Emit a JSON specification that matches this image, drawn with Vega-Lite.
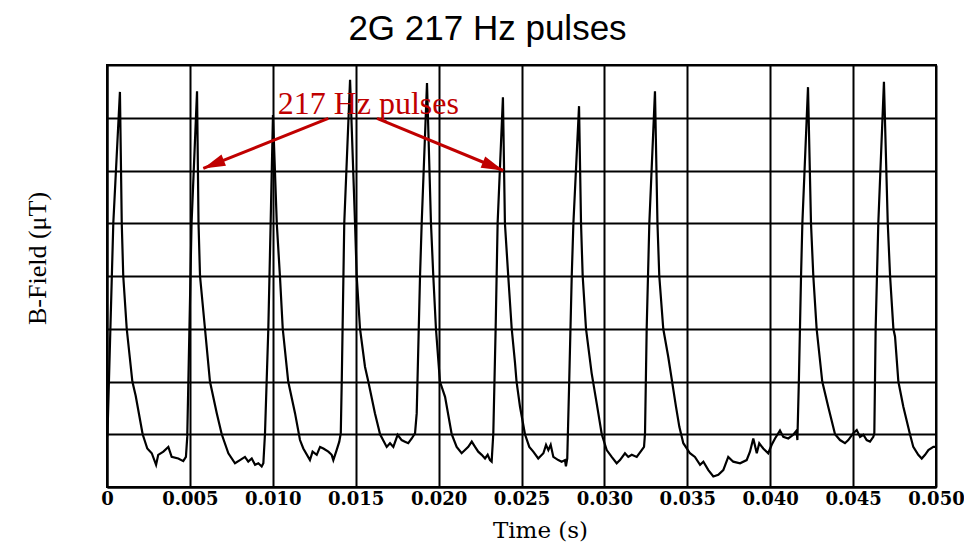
{
  "$schema": "https://vega.github.io/schema/vega-lite/v6.json",
  "width": 829,
  "height": 422,
  "autosize": "none",
  "padding": {"left": 107, "top": 65, "right": 28, "bottom": 62},
  "background": "white",
  "title": {"text": "2G 217 Hz pulses", "font": "Liberation Sans", "fontSize": 35, "fontWeight": "normal", "color": "black", "anchor": "middle", "dx": -34, "offset": 18},
  "config": {"view": {"stroke": "black", "strokeWidth": 2}},
  "datasets": {
    "signal": [
      {"t":0,"b":0.95},{"t":0.00003,"b":1.02},{"t":0.00038,"b":5.0},{"t":0.00078,"b":7.49},{"t":0.00089,"b":5.0},{"t":0.00098,"b":4.0},{"t":0.00119,"b":3.0},{"t":0.00153,"b":2.0},{"t":0.00173,"b":1.73},{"t":0.00215,"b":1.0},{"t":0.00243,"b":0.73},{"t":0.0027,"b":0.64},{"t":0.00296,"b":0.42},{"t":0.00309,"b":0.61},{"t":0.0034,"b":0.67},{"t":0.0037,"b":0.76},{"t":0.0039,"b":0.57},{"t":0.0043,"b":0.54},{"t":0.0046,"b":0.49},{"t":0.00476,"b":0.57},{"t":0.00484,"b":0.95},{"t":0.0051,"b":5.0},{"t":0.00543,"b":7.5},{"t":0.00552,"b":5.0},{"t":0.00561,"b":4.0},{"t":0.00591,"b":3.0},{"t":0.00621,"b":2.0},{"t":0.00662,"b":1.4},{"t":0.00692,"b":1.0},{"t":0.00732,"b":0.64},{"t":0.00772,"b":0.45},{"t":0.00802,"b":0.51},{"t":0.00832,"b":0.57},{"t":0.00852,"b":0.48},{"t":0.00873,"b":0.54},{"t":0.00893,"b":0.42},{"t":0.00913,"b":0.45},{"t":0.00933,"b":0.39},{"t":0.00943,"b":0.45},{"t":0.00953,"b":1.02},{"t":0.00973,"b":3.0},{"t":0.00987,"b":5.0},{"t":0.01001,"b":7.05},{"t":0.01024,"b":5.0},{"t":0.01043,"b":4.0},{"t":0.0106,"b":3.0},{"t":0.01093,"b":2.0},{"t":0.01134,"b":1.4},{"t":0.01164,"b":0.89},{"t":0.01184,"b":0.73},{"t":0.01224,"b":0.51},{"t":0.0124,"b":0.67},{"t":0.01265,"b":0.61},{"t":0.01285,"b":0.76},{"t":0.01305,"b":0.73},{"t":0.01335,"b":0.67},{"t":0.01355,"b":0.61},{"t":0.01365,"b":0.51},{"t":0.01385,"b":0.7},{"t":0.01401,"b":0.86},{"t":0.0141,"b":1.02},{"t":0.01416,"b":2.03},{"t":0.01431,"b":5.0},{"t":0.01466,"b":7.72},{"t":0.01496,"b":5.0},{"t":0.01506,"b":4.0},{"t":0.01526,"b":3.0},{"t":0.01556,"b":2.28},{"t":0.01576,"b":2.0},{"t":0.01616,"b":1.4},{"t":0.01647,"b":1.0},{"t":0.01687,"b":0.76},{"t":0.01707,"b":0.83},{"t":0.01727,"b":0.76},{"t":0.01753,"b":0.99},{"t":0.01777,"b":0.89},{"t":0.01797,"b":0.86},{"t":0.01817,"b":0.83},{"t":0.01838,"b":0.92},{"t":0.01858,"b":1.02},{"t":0.01868,"b":1.4},{"t":0.01888,"b":4.0},{"t":0.01898,"b":5.0},{"t":0.0193,"b":7.66},{"t":0.01954,"b":5.0},{"t":0.01968,"b":4.0},{"t":0.01984,"b":3.0},{"t":0.02008,"b":2.0},{"t":0.02039,"b":1.71},{"t":0.02079,"b":1.0},{"t":0.02109,"b":0.76},{"t":0.02139,"b":0.64},{"t":0.02159,"b":0.7},{"t":0.02179,"b":0.76},{"t":0.022,"b":0.86},{"t":0.0222,"b":0.76},{"t":0.02239,"b":0.67},{"t":0.0226,"b":0.61},{"t":0.0228,"b":0.54},{"t":0.02296,"b":0.61},{"t":0.0231,"b":0.51},{"t":0.0232,"b":0.48},{"t":0.0233,"b":1.02},{"t":0.02344,"b":3.0},{"t":0.02356,"b":5.0},{"t":0.02388,"b":7.39},{"t":0.024,"b":5.0},{"t":0.0242,"b":4.0},{"t":0.02441,"b":3.0},{"t":0.02461,"b":2.35},{"t":0.0247,"b":2.0},{"t":0.02491,"b":1.52},{"t":0.02521,"b":1.0},{"t":0.02547,"b":0.76},{"t":0.02571,"b":0.67},{"t":0.02601,"b":0.54},{"t":0.02632,"b":0.64},{"t":0.02648,"b":0.8},{"t":0.02662,"b":0.7},{"t":0.02676,"b":0.8},{"t":0.02692,"b":0.57},{"t":0.02722,"b":0.51},{"t":0.02742,"b":0.48},{"t":0.02762,"b":0.51},{"t":0.02768,"b":0.39},{"t":0.02776,"b":0.54},{"t":0.02788,"b":2.03},{"t":0.02803,"b":4.0},{"t":0.02813,"b":5.0},{"t":0.02847,"b":7.22},{"t":0.02859,"b":5.0},{"t":0.02869,"b":4.0},{"t":0.02889,"b":3.0},{"t":0.02923,"b":2.16},{"t":0.02957,"b":1.52},{"t":0.02984,"b":1.0},{"t":0.03014,"b":0.7},{"t":0.03044,"b":0.57},{"t":0.03074,"b":0.45},{"t":0.03094,"b":0.51},{"t":0.03124,"b":0.64},{"t":0.03144,"b":0.57},{"t":0.03165,"b":0.61},{"t":0.03195,"b":0.57},{"t":0.03225,"b":0.7},{"t":0.03239,"b":0.76},{"t":0.03245,"b":1.02},{"t":0.03255,"b":3.0},{"t":0.03271,"b":5.0},{"t":0.03305,"b":7.5},{"t":0.0332,"b":5.0},{"t":0.03331,"b":4.0},{"t":0.03355,"b":3.0},{"t":0.03385,"b":2.47},{"t":0.03416,"b":1.84},{"t":0.03432,"b":1.52},{"t":0.03452,"b":1.14},{"t":0.03476,"b":0.83},{"t":0.03516,"b":0.64},{"t":0.03546,"b":0.57},{"t":0.03577,"b":0.42},{"t":0.03597,"b":0.48},{"t":0.03627,"b":0.32},{"t":0.03657,"b":0.2},{"t":0.03687,"b":0.23},{"t":0.03717,"b":0.32},{"t":0.03747,"b":0.57},{"t":0.03777,"b":0.48},{"t":0.03818,"b":0.45},{"t":0.03858,"b":0.51},{"t":0.03878,"b":0.67},{"t":0.03898,"b":0.92},{"t":0.03919,"b":0.64},{"t":0.03934,"b":0.83},{"t":0.03958,"b":0.73},{"t":0.03988,"b":0.64},{"t":0.04009,"b":0.8},{"t":0.04029,"b":0.92},{"t":0.04059,"b":1.07},{"t":0.04079,"b":0.95},{"t":0.04109,"b":0.92},{"t":0.04139,"b":0.99},{"t":0.04159,"b":1.07},{"t":0.04164,"b":0.89},{"t":0.04173,"b":2.03},{"t":0.04186,"b":4.0},{"t":0.04194,"b":5.0},{"t":0.04228,"b":7.58},{"t":0.04246,"b":5.0},{"t":0.0426,"b":4.0},{"t":0.0428,"b":3.0},{"t":0.04314,"b":2.0},{"t":0.0435,"b":1.52},{"t":0.04391,"b":1.0},{"t":0.04421,"b":0.89},{"t":0.04451,"b":0.83},{"t":0.04471,"b":0.89},{"t":0.04501,"b":1.02},{"t":0.04522,"b":1.08},{"t":0.04542,"b":0.95},{"t":0.04562,"b":0.99},{"t":0.04582,"b":0.89},{"t":0.04602,"b":0.86},{"t":0.04622,"b":0.95},{"t":0.04628,"b":1.02},{"t":0.04636,"b":3.0},{"t":0.04652,"b":5.0},{"t":0.04686,"b":7.68},{"t":0.04709,"b":5.0},{"t":0.04723,"b":4.0},{"t":0.04743,"b":3.0},{"t":0.04753,"b":2.85},{"t":0.04773,"b":2.0},{"t":0.04803,"b":1.52},{"t":0.04843,"b":1.0},{"t":0.04863,"b":0.76},{"t":0.04893,"b":0.61},{"t":0.04914,"b":0.54},{"t":0.04934,"b":0.61},{"t":0.04954,"b":0.7},{"t":0.04984,"b":0.76},{"t":0.04994,"b":0.76}
    ],
    "arrows": [
      {"arrow": "a", "t": 0.013348, "b": 6.99},
      {"arrow": "a", "t": 0.005808, "b": 6.04},
      {"arrow": "b", "t": 0.016285, "b": 6.99},
      {"arrow": "b", "t": 0.023902, "b": 6.0}
    ],
    "heads": [
      {"arrow": "a", "t": 0.005808, "b": 6.04},
      {"arrow": "b", "t": 0.023902, "b": 6.0}
    ],
    "label": [
      {"t": 0.01576, "b": 7.065, "text": "217 Hz pulses"}
    ]
  },
  "encoding": {
    "x": {
      "field": "t", "type": "quantitative", "title": "Time (s)",
      "scale": {"domain": [0, 0.05], "nice": false, "zero": false},
      "axis": {
        "values": [0, 0.005, 0.01, 0.015, 0.02, 0.025, 0.03, 0.035, 0.04, 0.045, 0.05],
        "grid": true, "gridColor": "black", "gridWidth": 2, "gridOpacity": 1,
        "ticks": false, "domain": true, "domainColor": "black", "domainWidth": 2,
        "labelExpr": "datum.value === 0 ? '0' : format(datum.value, '.3f')",
        "labelFont": "DejaVu Serif", "labelFontSize": 18, "labelFontWeight": "bold", "labelColor": "black",
        "labelPadding": 3, "labelFlush": false, "labelBound": false, "labelOverlap": false,
        "titleFont": "DejaVu Serif", "titleFontSize": 23, "titleFontWeight": "normal", "titleColor": "black",
        "titleX": 433, "titleY": 32, "titleBaseline": "top", "titleAlign": "center"
      }
    },
    "y": {
      "field": "b", "type": "quantitative", "title": "B-Field (μT)",
      "scale": {"domain": [0, 8], "nice": false},
      "axis": {
        "values": [0, 1, 2, 3, 4, 5, 6, 7, 8],
        "grid": true, "gridColor": "black", "gridWidth": 1.8, "gridOpacity": 1,
        "ticks": false, "labels": false, "domain": true, "domainColor": "black", "domainWidth": 2,
        "titleFont": "Liberation Serif", "titleFontSize": 26, "titleFontWeight": "normal", "titleColor": "black",
        "titleAngle": -90, "titleX": -57, "titleY": 193, "titleAlign": "center", "titleBaseline": "bottom"
      }
    }
  },
  "layer": [
    {"data": {"name": "signal"}, "mark": {"type": "line", "color": "black", "strokeWidth": 2.2}},
    {"data": {"name": "arrows"}, "mark": {"type": "line", "color": "#c00000", "strokeWidth": 3}, "encoding": {"detail": {"field": "arrow"}}},
    {"data": {"name": "heads"}, "transform": [{"filter": "datum.arrow === 'a'"}], "mark": {"type": "point", "shape": "M0,0L-0.55,2L0.55,2Z", "size": 484, "angle": 248.2, "filled": true, "color": "#c00000", "opacity": 1}},
    {"data": {"name": "heads"}, "transform": [{"filter": "datum.arrow === 'b'"}], "mark": {"type": "point", "shape": "M0,0L-0.55,2L0.55,2Z", "size": 484, "angle": 112.3, "filled": true, "color": "#c00000", "opacity": 1}},
    {"data": {"name": "label"}, "mark": {"type": "text", "font": "Liberation Serif", "fontSize": 32, "color": "#c00000", "align": "center", "baseline": "alphabetic"}, "encoding": {"text": {"field": "text"}}}
  ]
}
